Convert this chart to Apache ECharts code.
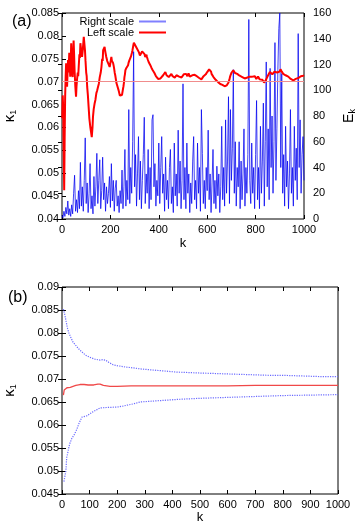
<!DOCTYPE html>
<html>
<head>
<meta charset="utf-8">
<script src="https://cdn.jsdelivr.net/npm/echarts@6/dist/echarts.min.js"></script>
<style>
  html, body { margin: 0; padding: 0; background: #fff; }
  #chart { width: 356px; height: 524px; }
</style>
</head>
<body>
<div id="chart"></div>
<script>
// panel (a): E_k (right scale), sampled every 4 steps of k
var blueStep = 4
var energyE = [
  3, 1, 6, 2, 9, 4, 14, 3, 8, 2, 11, 4, 20, 34, 6, 15, 5, 22, 8, 44, 10, 25, 6, 30, 63, 12,
  28, 5, 20, 43, 8, 18, 4, 33, 10, 25, 51, 12, 30, 46, 8, 22, 48, 15, 28, 6, 25, 12, 20, 33, 9,
  43, 14, 30, 6, 24, 30, 10, 18, 5, 22, 12, 38, 8, 25, 54, 10, 30, 15, 85, 12, 40, 20, 60, 130, 25,
  50, 10, 35, 64, 15, 45, 8, 30, 50, 79, 12, 35, 20, 54, 8, 40, 15, 77, 81, 25, 43, 10, 30, 18, 59,
  12, 40, 64, 20, 35, 6, 48, 15, 30, 8, 40, 54, 12, 25, 5, 59, 18, 35, 10, 69, 20, 45, 8, 30, 105,
  15, 40, 8, 59, 20, 35, 5, 28, 12, 45, 64, 15, 30, 8, 59, 20, 40, 6, 85, 51, 12, 30, 8, 40, 22,
  69, 15, 35, 5, 28, 54, 12, 30, 8, 41, 18, 35, 5, 25, 72, 15, 40, 10, 77, 20, 45, 95, 12, 85, 30,
  55, 116, 20, 60, 10, 40, 25, 60, 8, 45, 15, 35, 70, 10, 40, 20, 50, 155, 30, 12, 59, 20, 40, 8, 50,
  92, 15, 40, 8, 72, 20, 45, 90, 10, 60, 122, 25, 70, 15, 117, 40, 80, 20, 60, 137, 30, 70, 116, 148, 160,
  40, 113, 20, 50, 10, 72, 25, 45, 8, 35, 85, 20, 40, 10, 72, 30, 55, 15, 144, 40, 77, 20, 50, 64, 30
]

// panel (a): kappa_1 (left scale), [k, value]
var kappaA = [
  [1,0.062],[3,0.067],[5,0.064],[7,0.055],[9,0.0463],[11,0.058],[13,0.0667],[15,0.071],[17,0.074],[19,0.070],
  [21,0.0689],[23,0.072],[25,0.0747],[27,0.072],[30,0.0763],[32,0.074],[34,0.0711],[36,0.074],[38,0.0784],[40,0.075],
  [42,0.0715],[44,0.071],[46,0.076],[48,0.079],[50,0.076],[52,0.0725],[55,0.069],[58,0.0667],[60,0.069],[62,0.0704],
  [65,0.072],[67,0.0712],[69,0.0732],[72,0.076],[74,0.0752],[76,0.0784],[79,0.077],[81,0.0762],[83,0.0754],[86,0.077],
  [88,0.0768],[90,0.0798],[93,0.078],[95,0.0768],[97,0.0747],[100,0.072],[102,0.0712],[104,0.0689],[107,0.067],[110,0.0645],
  [113,0.062],[117,0.0601],[120,0.059],[123,0.0579],[126,0.060],[128,0.0623],[131,0.064],[133,0.0638],[135,0.0653],[138,0.066],
  [140,0.0664],[142,0.0675],[145,0.068],[147,0.0676],[149,0.0689],[152,0.0695],[154,0.0691],[156,0.071],[160,0.072],[163,0.0732],
  [166,0.075],[168,0.0745],[170,0.0769],[173,0.0772],[176,0.0776],[178,0.0768],[180,0.0765],[183,0.0754],[185,0.0758],[187,0.0745],
  [190,0.0747],[192,0.0739],[194,0.074],[197,0.0732],[199,0.0738],[201,0.0745],[204,0.0754],[206,0.0746],[208,0.0748],[211,0.0741],
  [213,0.0736],[215,0.073],[218,0.0719],[220,0.0714],[222,0.071],[225,0.0697],[227,0.0694],[229,0.069],[232,0.0686],[234,0.0681],
  [236,0.0678],[239,0.067],[241,0.0673],[243,0.0668],[246,0.0667],[248,0.0671],[250,0.0675],[252,0.0684],[254,0.069],[256,0.0698],
  [258,0.071],[260,0.0716],[262,0.0725],[264,0.0721],[266,0.073],[268,0.0734],[270,0.0728],[273,0.0736],[275,0.0741],[278,0.0746],
  [280,0.075],[283,0.0747],[285,0.0755],[287,0.0759],[289,0.0763],[291,0.0768],[293,0.0772],[295,0.078],[297,0.0785],[300,0.0787],
  [303,0.0779],[305,0.0782],[308,0.0774],[310,0.0776],[313,0.0772],[315,0.077],[318,0.0764],[320,0.0762],[322,0.0757],[324,0.0758],
  [326,0.0754],[328,0.076],[331,0.0766],[333,0.0764],[335,0.0769],[337,0.0765],[339,0.0762],[341,0.076],[344,0.0754],[346,0.0757],
  [349,0.0759],[351,0.0754],[354,0.0749],[356,0.0746],[358,0.0743],[360,0.074],[363,0.0739],[365,0.0736],[368,0.0733],[370,0.073],
  [373,0.0729],[375,0.0725],[377,0.0724],[379,0.0721],[382,0.0719],[384,0.0716],[386,0.0715],[388,0.0712],[391,0.0713],[393,0.071],
  [395,0.0708],[397,0.0706],[400,0.0703],[402,0.0704],[405,0.0702],[407,0.0707],[410,0.0705],[413,0.071],[415,0.0708],[418,0.0714],
  [420,0.0711],[422,0.0718],[425,0.0716],[427,0.0721],[430,0.0717],[432,0.0714],[434,0.0716],[436,0.0712],[438,0.0715],[441,0.071],
  [443,0.0713],[446,0.0714],[448,0.0711],[450,0.0712],[452,0.0717],[455,0.0715],[457,0.0712],[460,0.0711],[462,0.0715],[464,0.0713],
  [466,0.0709],[468,0.071],[470,0.0713],[473,0.0714],[475,0.071],[478,0.0712],[480,0.0716],[482,0.0715],[484,0.0711],[487,0.071],
  [489,0.0714],[491,0.0712],[494,0.0709],[496,0.0708],[498,0.0711],[500,0.0712],[503,0.0716],[505,0.0718],[508,0.0713],[510,0.0715],
  [513,0.0717],[515,0.0713],[518,0.0712],[520,0.0716],[523,0.0718],[525,0.0715],[528,0.0711],[530,0.0712],[533,0.0715],[535,0.0716],
  [538,0.0714],[540,0.0718],[543,0.0715],[545,0.0717],[548,0.0715],[550,0.0713],[553,0.0711],[555,0.071],[557,0.0712],[559,0.071],
  [562,0.0708],[564,0.0707],[567,0.0708],[569,0.0705],[571,0.0706],[573,0.0704],[576,0.0705],[578,0.0707],[581,0.0706],[583,0.0709],
  [585,0.0712],[587,0.071],[590,0.0711],[592,0.0714],[594,0.0716],[596,0.0718],[598,0.0717],[600,0.0721],[603,0.0719],[605,0.0722],
  [608,0.0727],[611,0.0725],[613,0.0726],[616,0.0722],[618,0.0717],[621,0.0715],[623,0.0713],[626,0.071],[628,0.0711],[630,0.0707],
  [633,0.0706],[635,0.0704],[638,0.0702],[640,0.07],[643,0.0701],[645,0.0699],[647,0.0698],[649,0.0697],[652,0.0698],[654,0.0695],
  [656,0.0696],[658,0.0694],[661,0.0695],[663,0.0693],[666,0.0692],[668,0.0691],[670,0.0693],[672,0.069],[674,0.0688],[676,0.0689],
  [679,0.0687],[681,0.0692],[683,0.069],[686,0.0695],[688,0.0698],[690,0.0702],[692,0.0705],[694,0.071],[697,0.0715],[699,0.0717],
  [701,0.072],[703,0.0718],[705,0.0723],[708,0.0725],[710,0.0721],[712,0.0722],[715,0.0719],[718,0.0721],[721,0.0719],[724,0.0717],
  [727,0.0718],[731,0.0715],[734,0.0713],[738,0.0712],[741,0.0714],[745,0.071],[748,0.0712],[752,0.071],[755,0.0707],[759,0.0708],
  [762,0.0711],[766,0.0709],[769,0.0707],[773,0.0708],[776,0.0711],[780,0.071],[783,0.0713],[787,0.0711],[790,0.0708],[793,0.071],
  [797,0.0712],[800,0.0708],[803,0.0706],[807,0.0709],[810,0.0711],[814,0.0708],[817,0.0705],[821,0.0706],[824,0.0707],[828,0.0704],
  [831,0.0703],[833,0.0701],[835,0.0698],[837,0.0699],[840,0.0701],[842,0.0703],[845,0.0707],[848,0.071],[851,0.0712],[854,0.0716],
  [856,0.0718],[859,0.0721],[862,0.0718],[866,0.0719],[869,0.0716],[873,0.0717],[876,0.072],[878,0.0722],[881,0.0721],[883,0.0725],
  [886,0.0723],[889,0.072],[891,0.0718],[894,0.0717],[896,0.072],[899,0.0722],[901,0.0724],[903,0.0727],[906,0.0725],[908,0.0722],
  [911,0.0719],[914,0.0717],[917,0.0718],[921,0.0716],[924,0.0714],[928,0.0715],[931,0.0713],[935,0.0711],[938,0.0709],[942,0.0708],
  [945,0.0706],[949,0.0705],[952,0.0703],[956,0.0703],[959,0.0701],[963,0.0704],[966,0.0706],[970,0.0706],[973,0.0705],[977,0.0708],
  [980,0.0707],[983,0.071],[987,0.0712],[990,0.0711],[994,0.0709],[997,0.0713],[1000,0.0714]
]
var kappaRef = 0.07

// panel (b): running mean and its band, [k, value]
var meanB = [
  [5,0.0665],[8,0.0676],[12,0.068],[18,0.0681],[25,0.0683],[30,0.0682],[40,0.0684],[50,0.0686],[65,0.0688],[80,0.0688],
  [95,0.0687],[115,0.0687],[130,0.0689],[138,0.0689],[150,0.0686],[174,0.0684],[200,0.0684],[250,0.0685],[300,0.0685],
  [400,0.0685],[500,0.0685],[600,0.0685],[700,0.0686],[800,0.0686],[900,0.0686],[1000,0.0686]
]
var upperB = [
  [5,0.0852],[10,0.084],[15,0.0825],[20,0.081],[25,0.08],[33,0.0789],[40,0.078],[50,0.0773],[58,0.0767],[70,0.076],
  [85,0.0752],[101,0.0747],[120,0.0743],[138,0.0741],[148,0.0742],[158,0.0741],[170,0.0736],[185,0.0731],[200,0.0729],
  [230,0.0726],[260,0.0724],[283,0.0722],[320,0.072],[360,0.0718],[415,0.0715],[460,0.0714],[500,0.0713],[550,0.0712],
  [600,0.0711],[650,0.071],[700,0.0709],[750,0.0708],[800,0.0708],[850,0.0707],[900,0.0706],[950,0.0705],[1000,0.0705]
]
var lowerB = [
  [7,0.0477],[11,0.0478],[14,0.05],[17,0.0529],[20,0.0537],[25,0.0552],[29,0.0561],[35,0.057],[45,0.058],[54,0.0591],
  [62,0.0604],[72,0.0617],[90,0.062],[110,0.0628],[138,0.0637],[160,0.0638],[199,0.0639],[220,0.0641],[235,0.0643],
  [260,0.0646],[283,0.065],[330,0.0652],[380,0.0654],[428,0.0656],[500,0.0658],[600,0.066],[700,0.0662],[800,0.0664],
  [900,0.0665],[1000,0.0666]
]

var energyData = energyE.map(function (e, i) { return [i * blueStep, e] })

var font = 'Liberation Sans, Arial, sans-serif'
var lbl = { color: '#000', fontFamily: font, fontSize: 11 }
var fmt = function (v) { return String(+v.toFixed(3)) }
var kfmt = function (v) { return String(v) }
var tick = { inside: true, length: 4, lineStyle: { color: '#000' } }
var kappaName = {
  name: '{i|κ}{s|1}',
  nameLocation: 'middle',
  nameRotate: 90,
  nameTextStyle: {
    fontFamily: font,
    rich: {
      i: { fontSize: 15, lineHeight: 16, color: '#000', fontFamily: font },
      s: { fontSize: 9, lineHeight: 10, verticalAlign: 'bottom', color: '#000', fontFamily: font }
    }
  }
}

var option = {
  animation: false,
  backgroundColor: '#fff',
  textStyle: { fontFamily: font },
  grid: [
    { left: 62, right: 52, top: 13, bottom: 305, show: true, borderColor: '#000', borderWidth: 1,
      containLabel: false, outerBoundsMode: 'none' },
    { left: 62, right: 18, top: 287, bottom: 30, show: true, borderColor: '#000', borderWidth: 1,
      containLabel: false, outerBoundsMode: 'none' }
  ],
  legend: {
    orient: 'vertical', right: 190, top: 16, padding: 0, itemGap: 0,
    itemWidth: 27, itemHeight: 2, align: 'right', selectedMode: false,
    textStyle: { color: '#000', fontFamily: font, fontSize: 11, lineHeight: 10 },
    data: [
      { name: 'Right scale', icon: 'rect', itemStyle: { color: '#8080ff' } },
      { name: 'Left scale', icon: 'rect', itemStyle: { color: '#ff0000' } }
    ]
  },
  graphic: [
    { type: 'text', left: 12, top: 14, style: { text: '(a)', font: '16px ' + font, fill: '#000' } },
    { type: 'text', left: 8, top: 290, style: { text: '(b)', font: '16px ' + font, fill: '#000' } }
  ],
  xAxis: [
    { gridIndex: 0, type: 'value', min: 0, max: 1000, interval: 200, position: 'bottom',
      name: 'k', nameLocation: 'middle', nameGap: 18, nameTextStyle: { color: '#000', fontSize: 13, fontFamily: font },
      axisLine: { show: false }, axisTick: tick, splitLine: { show: false },
      axisLabel: Object.assign({ margin: 5, formatter: kfmt }, lbl) },
    { gridIndex: 0, type: 'value', min: 0, max: 1000, interval: 200, position: 'top',
      axisLine: { show: false }, axisTick: tick, splitLine: { show: false }, axisLabel: { show: false } },
    { gridIndex: 1, type: 'value', min: 0, max: 1000, interval: 100, position: 'bottom',
      name: 'k', nameLocation: 'middle', nameGap: 17, nameTextStyle: { color: '#000', fontSize: 13, fontFamily: font },
      axisLine: { show: false }, axisTick: tick, splitLine: { show: false },
      axisLabel: Object.assign({ margin: 5, formatter: kfmt }, lbl) },
    { gridIndex: 1, type: 'value', min: 0, max: 1000, interval: 100, position: 'top',
      axisLine: { show: false }, axisTick: tick, splitLine: { show: false }, axisLabel: { show: false } }
  ],
  yAxis: [
    Object.assign({ gridIndex: 0, type: 'value', min: 0.04, max: 0.085, interval: 0.005, position: 'left',
      nameGap: 44, axisLine: { show: false }, axisTick: tick, splitLine: { show: false },
      axisLabel: Object.assign({ margin: 3, formatter: fmt }, lbl) }, kappaName),
    { gridIndex: 0, type: 'value', min: 0, max: 160, interval: 20, position: 'right',
      name: '{i|E}{s|k}', nameLocation: 'middle', nameRotate: 90, nameGap: 33,
      nameTextStyle: { fontFamily: font, rich: {
        i: { fontSize: 14, lineHeight: 16, color: '#000', fontFamily: font },
        s: { fontSize: 9, lineHeight: 10, verticalAlign: 'bottom', color: '#000', fontFamily: font } } },
      axisLine: { show: false }, axisTick: tick, splitLine: { show: false },
      axisLabel: Object.assign({ margin: 9 }, lbl) },
    Object.assign({ gridIndex: 1, type: 'value', min: 0.045, max: 0.09, interval: 0.005, position: 'left',
      nameGap: 44, axisLine: { show: false }, axisTick: tick, splitLine: { show: false },
      axisLabel: Object.assign({ margin: 3, formatter: fmt }, lbl) }, kappaName),
    { gridIndex: 1, type: 'value', min: 0.045, max: 0.09, interval: 0.005, position: 'right',
      axisLine: { show: false }, axisTick: tick, splitLine: { show: false }, axisLabel: { show: false } }
  ],
  series: [
    { name: 'Right scale', type: 'line', xAxisIndex: 0, yAxisIndex: 1, data: energyData,
      symbol: 'none', lineStyle: { color: 'rgba(0,0,240,0.75)', width: 1 }, itemStyle: { color: '#8080ff' } },
    { name: 'Left scale', type: 'line', xAxisIndex: 0, yAxisIndex: 0, data: kappaA,
      symbol: 'none', lineStyle: { color: '#ff0000', width: 2 }, itemStyle: { color: '#ff0000' },
      markLine: { silent: true, symbol: 'none', label: { show: false },
        lineStyle: { color: '#f08c8c', width: 1, type: 'solid' }, data: [{ yAxis: kappaRef }] } },
    { name: 'upper', type: 'line', xAxisIndex: 2, yAxisIndex: 2, data: upperB, symbol: 'none',
      lineStyle: { color: '#6a6aff', width: 1.2, type: 'dotted' } },
    { name: 'lower', type: 'line', xAxisIndex: 2, yAxisIndex: 2, data: lowerB, symbol: 'none',
      lineStyle: { color: '#6a6aff', width: 1.2, type: 'dotted' } },
    { name: 'mean', type: 'line', xAxisIndex: 2, yAxisIndex: 2, data: meanB, symbol: 'none',
      lineStyle: { color: '#f04848', width: 1.3 } }
  ]
}

var chart = echarts.init(document.getElementById('chart'))
chart.setOption(option)
</script>
</body>
</html>
